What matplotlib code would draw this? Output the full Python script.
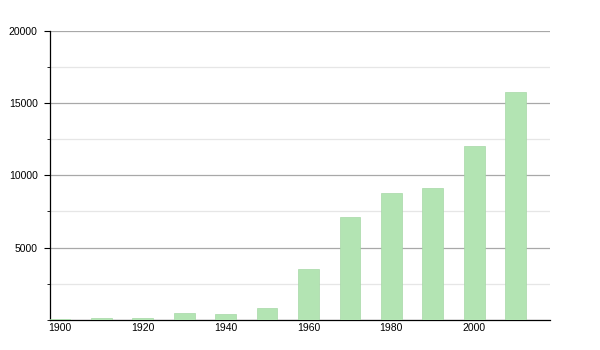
import matplotlib.pyplot as plt
from matplotlib.ticker import MultipleLocator

years = [1900, 1910, 1920, 1930, 1940, 1950, 1960, 1970, 1980, 1990, 2000, 2010]
population = [90, 160, 150, 500, 440, 850, 3540, 7120, 8800, 9130, 12020, 15750]
xtick_years = [1900, 1920, 1940, 1960, 1980, 2000]

plt.rcParams['font.family'] = ['Liberation Sans', 'DejaVu Sans']

fig = plt.figure(figsize=(6, 3.5), dpi=100)
ax = fig.add_axes([0.0833, 0.086, 0.8334, 0.826])

ax.bar(years, population, width=5, color='#b3e4b3', edgecolor='#a6d8a6',
       linewidth=0.5, zorder=3)

ax.set_xlim(1897.6, 2018.3)
ax.set_ylim(0, 20000)

ax.yaxis.set_major_locator(MultipleLocator(5000))
ax.yaxis.set_minor_locator(MultipleLocator(2500))
ax.grid(axis='y', which='major', color='#a8a8a8', linewidth=0.9, zorder=0)
ax.grid(axis='y', which='minor', color='#e6e6e6', linewidth=0.9, zorder=0)
ax.set_yticks([5000, 10000, 15000, 20000])

ax.set_xticks(xtick_years)
ax.tick_params(axis='x', length=0, pad=2.5, labelsize=7.5)
ax.tick_params(axis='y', which='major', length=4.3, width=0.8, pad=4.5, labelsize=7.5)
ax.tick_params(axis='y', which='minor', length=2.2, width=0.6)

for side in ['top', 'right']:
    ax.spines[side].set_visible(False)
ax.spines['left'].set_linewidth(0.9)
ax.spines['bottom'].set_linewidth(0.9)

plt.savefig('out.png', dpi=100)
